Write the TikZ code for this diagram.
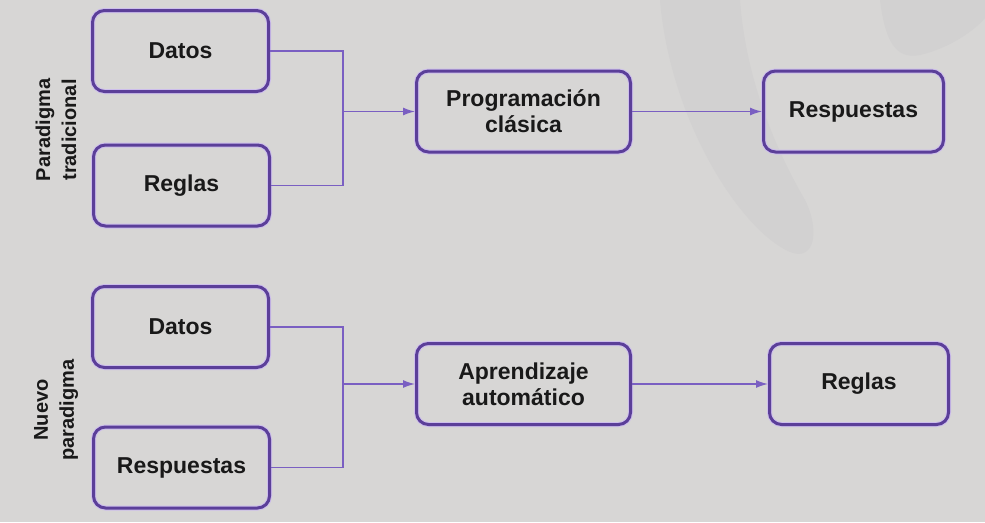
\documentclass[tikz,border=0pt]{standalone}
\usepackage{fontspec}
\setmainfont{Liberation Sans}
\usetikzlibrary{arrows.meta}
\definecolor{bggray}{HTML}{D7D6D5}
\definecolor{swoosh}{HTML}{D2D1D1}
\definecolor{boxpurple}{HTML}{5B3F99}
\definecolor{boxglow}{HTML}{CDBEEC}
\definecolor{linepurple}{HTML}{7A5FC2}
\begin{document}
\begin{tikzpicture}[
    x=1pt, y=-1pt,
    every node/.style={align=center, text=black!90,
      font=\bfseries\fontsize{23}{26}\selectfont},
    box/.style={draw=boxpurple, rounded corners=12pt, line width=3pt,
      minimum width=176pt, minimum height=81pt,
      preaction={draw=boxglow, line width=5pt}},
    wide/.style={box, minimum width=214pt},
    side/.style={rotate=90, font=\bfseries\fontsize{20}{26}\selectfont},
    link/.style={draw=linepurple, line width=1.4pt},
    flow/.style={link, -{Latex[length=12pt,width=8pt]}}
  ]
    \fill[bggray] (0,0) rectangle (985,522);
    \useasboundingbox (0,0) rectangle (985,522);
    \fill[swoosh] (660,0) .. controls (670,120) and (740,230) .. (790,252)
      .. controls (815,262) and (820,230) .. (805,200)
      .. controls (770,140) and (745,70) .. (740,0) -- cycle;
    \fill[swoosh] (880,0) .. controls (885,40) and (895,60) .. (920,55)
      .. controls (950,48) and (975,30) .. (985,18) -- (985,0) -- cycle;

    \node[box] (datosA) at (180.5,51) {Datos};
    \node[box] (reglasA) at (181.5,185.5) {Reglas};
    \node[wide] (prog) at (523.5,111.5) {Programación\\clásica};
    \node[box, minimum width=180pt] (respA) at (853.5,111.5) {Respuestas};
    \node[side] (tradicional) at (56,130) {Paradigma\\tradicional};

    \node[box] (datosB) at (180.5,327) {Datos};
    \node[box] (respB) at (181.5,467.5) {Respuestas};
    \node[wide] (apren) at (523.5,384) {Aprendizaje\\automático};
    \node[box, minimum width=179pt] (reglasB) at (859,384) {Reglas};
    \node[side] (nuevo) at (56,410) {Nuevo\\paradigma};

    \coordinate (joinA) at (343,111.5);
    \coordinate (joinB) at (343,384);
    \draw[link] (datosA.east) -| (joinA);
    \draw[link] (reglasA.east) -| (joinA);
    \draw[flow] (joinA) -- (prog.west);
    \draw[flow] (prog) -- (respA);
    \draw[link] (datosB.east) -| (joinB);
    \draw[link] (respB.east) -| (joinB);
    \draw[flow] (joinB) -- (apren.west);
    \draw[flow] (apren) -- (reglasB);
  \end{tikzpicture}
\end{document}
